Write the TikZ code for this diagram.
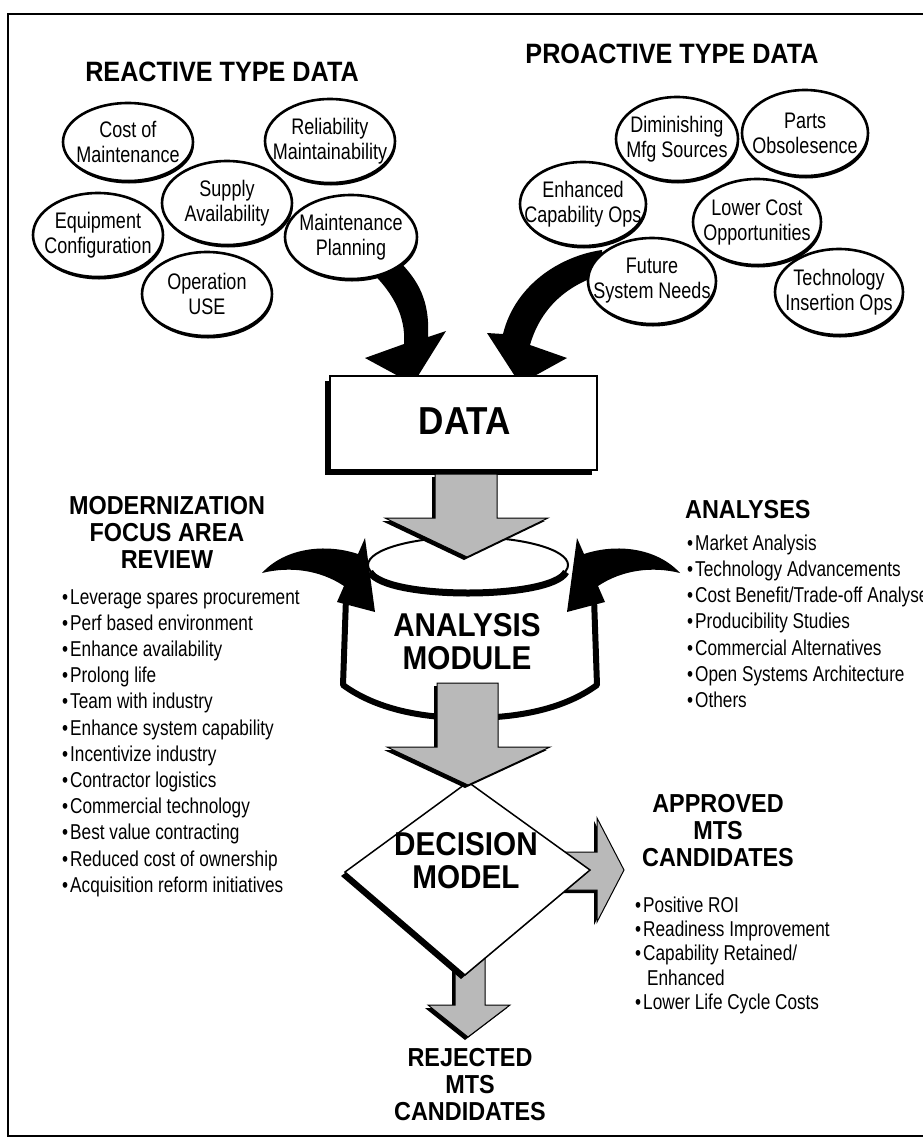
\documentclass[tikz,border=0pt]{standalone}
\usepackage{fontspec}
\setmainfont{Liberation Sans}
\newfontfamily\cf[FakeStretch=0.8]{Liberation Sans}
\newfontfamily\hf[FakeStretch=0.9]{Liberation Sans}
\usetikzlibrary{shapes.geometric}
\tikzset{
  elltext/.style={font=\cf\fontsize{22.5}{25}\selectfont, align=center, inner sep=0pt},
  listtext/.style={font=\cf\fontsize{21.5}{26}\selectfont, inner sep=0pt, anchor=base west},
  headtext/.style={font=\hf\bfseries\fontsize{26}{27}\selectfont, align=center, inner sep=0pt},
  toptext/.style={font=\hf\bfseries\fontsize{28}{30}\selectfont, inner sep=0pt},
  bigtext/.style={font=\hf\bfseries\fontsize{33}{33}\selectfont, align=center, inner sep=0pt},
  ellline/.style={fill=white, draw=black, line width=2.6pt},
  blackarrow/.style={fill=black},
  grayarrow/.style={fill=gray!55, draw=black, line width=1pt},
}
\newcommand{\ellnode}[6]{%
  \fill[black] (#2+1,#3+2.5) ellipse (#4pt and #5pt);
  \filldraw[ellline] (#2,#3) ellipse (#4pt and #5pt);
  \node[elltext] (#1) at (#2,#3) {#6};
}
\newcommand{\grayshape}[1]{%
  \fill[black, shift={(-3,3)}] #1;
  \filldraw[grayarrow] #1;
}
\begin{document}
\begin{tikzpicture}[x=1pt,y=-1pt]
\useasboundingbox (0,0) rectangle (923,1146);
\fill[white] (0,0) rectangle (923,1146);
% frame
\draw[line width=2.5pt] (940,14) -- (8,14) -- (8,1136) -- (940,1136);

% top black curved arrows
\fill[blackarrow] (365,266) .. controls (392,290) and (406,315) .. (404,344)
  -- (365,358) -- (413,384) -- (446,331) -- (428,337)
  .. controls (430,300) and (418,280) .. (398,260) -- cycle;
\fill[blackarrow] (602,250) .. controls (560,256) and (515,285) .. (503,334)
  -- (487,333) -- (520,384) -- (567,358) -- (530,345)
  .. controls (540,310) and (565,285) .. (604,274) -- cycle;

% headings
\node[toptext] (reactive) at (222,72) {REACTIVE TYPE DATA};
\node[toptext] (proactive) at (672,54) {PROACTIVE TYPE DATA};

% reactive ellipses
\ellnode{cost}{128}{142}{65}{39}{Cost of\\Maintenance}
\ellnode{rel}{330}{141}{65}{42}{Reliability\\Maintainability}
\ellnode{supply}{227}{203}{65}{42}{Supply\\Availability}
\ellnode{equip}{98}{235}{65}{42}{Equipment\\Configuration}
\ellnode{mplan}{351}{237}{66}{42}{Maintenance\\Planning}
\ellnode{oper}{207}{294}{65}{42}{Operation\\USE}

% proactive ellipses
\ellnode{dimin}{677}{139}{61}{42}{Diminishing\\Mfg Sources}
\ellnode{parts}{805}{133}{63}{43}{Parts\\Obsolesence}
\ellnode{enh}{583}{204}{63}{42}{Enhanced\\Capability Ops}
\ellnode{lower}{757}{222}{64}{43}{Lower Cost\\Opportunities}
\ellnode{future}{652}{281}{64}{43}{Future\\System Needs}
\ellnode{tech}{839}{292}{64}{43}{Technology\\Insertion Ops}

% DATA box
\fill[black] (325,381) rectangle (592,475);
\filldraw[fill=white, draw=black, line width=1.5pt] (330,376) rectangle (597,470);
\node[font=\hf\bfseries\fontsize{39}{39}\selectfont, inner sep=0pt] (data) at (465,421) {DATA};

% analysis module drum
\draw[line width=6pt, line join=round] (346,598) -- (343,685)
  .. controls (380,712) and (430,718) .. (468,718)
  .. controls (510,718) and (560,712) .. (597,685) -- (594,598);
\filldraw[fill=white, draw=black, line width=2pt] (468,565) ellipse (100pt and 28pt);
\draw[line width=7pt] (370,572) .. controls (385,600) and (551,600) .. (566,572);
\node[bigtext] (analysis) at (467,642) {ANALYSIS\\MODULE};

% black swoosh arrows into module
\fill[blackarrow] (262,573) .. controls (285,548) and (325,543) .. (358,554)
  -- (365,538) -- (375,612) -- (337,602) -- (344,586)
  .. controls (320,570) and (290,566) .. (262,573) -- cycle;
\begin{scope}[xshift=942pt, xscale=-1]
\fill[blackarrow] (262,573) .. controls (285,548) and (325,543) .. (358,554)
  -- (365,538) -- (375,612) -- (337,602) -- (344,586)
  .. controls (320,570) and (290,566) .. (262,573) -- cycle;
\end{scope}

% gray arrow data -> module
\grayshape{(435,474) -- (435,518) -- (385,518) -- (467,557) -- (548,518) -- (497,518) -- (497,474) -- cycle}

% side texts
\node[headtext] (modern) at (167,532) {MODERNIZATION\\FOCUS AREA\\REVIEW};
\foreach \t [count=\i from 0] in {Leverage spares procurement, Perf based environment, Enhance availability, Prolong life, Team with industry, Enhance system capability, Incentivize industry, Contractor logistics, Commercial technology, Best value contracting, Reduced cost of ownership, Acquisition reform initiatives}
  \node[listtext] (L\i) at (62,{604+26.2*\i}) {•\hspace{2pt}\t};

\node[headtext, anchor=west] (analyses) at (685,510) {ANALYSES};
\foreach \t [count=\i from 0] in {Market Analysis, Technology Advancements, Cost Benefit/Trade-off Analyses, Producibility Studies, Commercial Alternatives, Open Systems Architecture, Others}
  \node[listtext] (R\i) at (687,{550+26.3*\i}) {•\hspace{2pt}\t};

% gray arrows from decision (under diamond)
\grayshape{(560,852) -- (597,852) -- (597,818) -- (624,870) -- (597,922) -- (597,890) -- (560,890) -- cycle}
\grayshape{(455,950) -- (455,1005) -- (428,1005) -- (468,1037) -- (510,1005) -- (485,1005) -- (485,950) -- cycle}

% decision diamond
\fill[black] (464,786) -- (586,874) -- (461,979) -- (341,876) -- cycle;
\filldraw[fill=white, draw=black, line width=1.5pt] (468,782) -- (590,870) -- (465,975) -- (345,872) -- cycle;
\node[bigtext] (decision) at (466,861) {DECISION\\MODEL};

% gray arrow module -> decision
\grayshape{(437,683) -- (437,747) -- (387,747) -- (468,785) -- (550,747) -- (498,747) -- (498,683) -- cycle}

% approved
\node[headtext] (approved) at (718,831) {APPROVED\\MTS\\CANDIDATES};
\node[listtext] (A1) at (635,912) {•\hspace{2pt}Positive ROI};
\node[listtext] (A2) at (635,936) {•\hspace{2pt}Readiness Improvement};
\node[listtext] (A3) at (635,960) {•\hspace{2pt}Capability Retained/};
\node[listtext] (A4) at (647,985) {Enhanced};
\node[listtext] (A5) at (635,1009) {•\hspace{2pt}Lower Life Cycle Costs};

% rejected
\node[headtext] (rejected) at (470,1085) {REJECTED\\MTS\\CANDIDATES};
\end{tikzpicture}
\end{document}
